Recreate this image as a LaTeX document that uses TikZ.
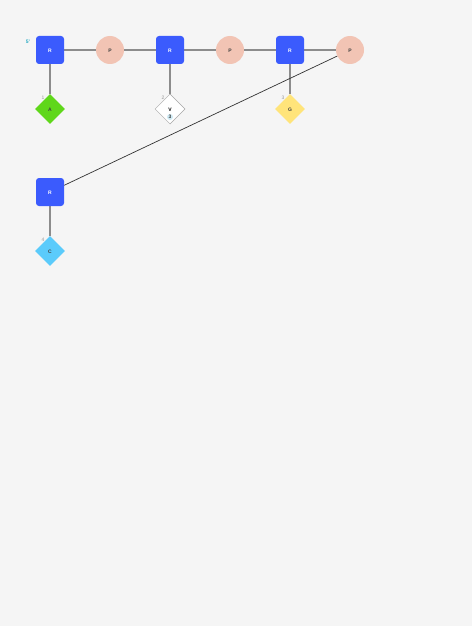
\documentclass[tikz,border=0pt]{standalone}
\usepackage{fontspec}
\setmainfont{Liberation Sans}
\usetikzlibrary{shapes.geometric,backgrounds}
\definecolor{bgc}{RGB}{245,245,245}
\definecolor{resb}{RGB}{59,91,253}
\definecolor{prodc}{RGB}{242,196,180}
\definecolor{leafa}{RGB}{95,215,26}
\definecolor{leafg}{RGB}{255,228,122}
\definecolor{leafc}{RGB}{91,203,251}
\definecolor{linkg}{RGB}{140,140,140}
\definecolor{tealc}{RGB}{40,170,195}
\definecolor{badgec}{RGB}{208,236,246}

\begin{document}
\begin{tikzpicture}[
  x=1pt, y=-1pt,
  every node/.style={font=\fontsize{5}{6}\selectfont\bfseries, inner sep=0pt,
                     text height=5.4pt, text depth=0pt},
  res/.style={rectangle, rounded corners=3pt, fill=resb, text=white,
              minimum size=28pt},
  prod/.style={circle, fill=prodc, text=black!75, minimum size=28pt},
  leaf/.style={diamond, minimum size=30pt, text=black!75},
  idx/.style={font=\fontsize{5}{6}\selectfont, text=black!40},
  link/.style={-, line width=2pt, linkg},
  jump/.style={-, line width=0.7pt, black!80},
]
\useasboundingbox (0,0) rectangle (472,626);

% main chain
\node[res]  (r1) at (50,50)  {R};
\node[prod] (p1) at (110,50) {P};
\node[res]  (r2) at (170,50) {R};
\node[prod] (p2) at (230,50) {P};
\node[res]  (r3) at (290,50) {R};
\node[prod] (p3) at (350,50) {P};
\node[res]  (r4) at (50,192) {R};

% leaves
\node[leaf, fill=leafa] (la) at (50,109)  {A};
\node[leaf, fill=white, draw=black!35, line width=0.5pt] (lv) at (170,109) {};
\node[leaf, fill=leafg] (lg) at (290,109) {G};
\node[leaf, fill=leafc] (lc) at (50,251)  {C};
\node (vt) at (170,109) {V};
\node[circle, fill=badgec, minimum size=6pt, text height=3.6pt, text=black!75] (vb) at (170,117) {3};

% index labels
\node[idx] (i1) at (43,97)  {1};
\node[idx] (i2) at (163,97) {2};
\node[idx] (i3) at (283,97) {3};
\node[idx] (i4) at (43,239) {4};
\node[font=\fontsize{5}{6}\selectfont\bfseries, text=tealc] (i5) at (28,41) {5'};

\begin{scope}[on background layer]
  \fill[bgc] (0,0) rectangle (472,626);
  \draw[link] (r1) -- (p1);
  \draw[link] (p1) -- (r2);
  \draw[link] (r2) -- (p2);
  \draw[link] (p2) -- (r3);
  \draw[link] (r3) -- (p3);
  \draw[link] (r1) -- (la);
  \draw[link] (r2) -- (lv);
  \draw[link] (r3) -- (lg);
  \draw[link] (r4) -- (lc);
\end{scope}
\draw[jump] (p3) -- (r4);
\end{tikzpicture}
\end{document}
